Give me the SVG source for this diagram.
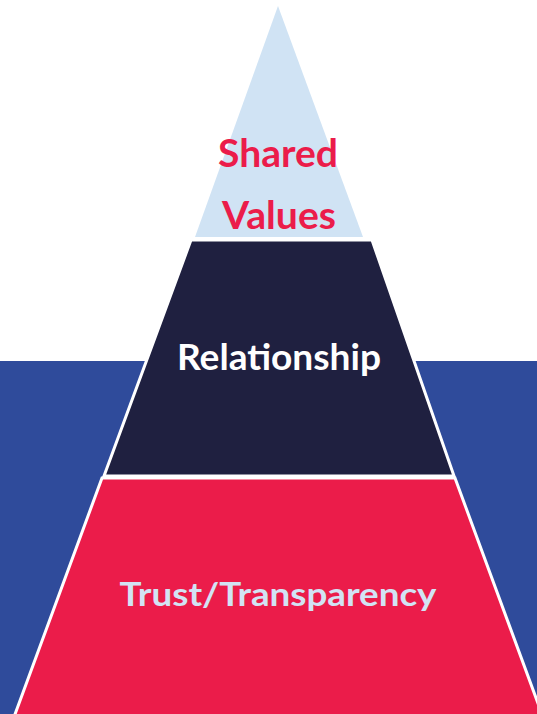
<svg xmlns="http://www.w3.org/2000/svg" width="537" height="714" viewBox="0 0 537 714">
<style>
.lbl{font-family:Lato,"Open Sans","Liberation Sans",sans-serif;font-weight:700;text-anchor:middle}
.layer{stroke:#FFFFFF;stroke-width:3;stroke-linejoin:miter}
</style>
<rect x="0" y="0" width="537" height="714" fill="#FFFFFF"/>
<rect id="sea" x="0" y="361" width="537" height="353" fill="#2F4B9B"/>
<g id="bottom">
<polygon class="layer" points="102,478 455,478 543,717 14,717" fill="#EB1C4A"/>
<text class="lbl" x="278" y="606" font-size="33" fill="#D2E3F4" textLength="317" lengthAdjust="spacingAndGlyphs">Trust/Transparency</text>
</g>
<g id="middle">
<polygon class="layer" points="191,240 372,240 454,476 104,476" fill="#1F2040"/>
<text class="lbl" x="279" y="370" font-size="36" fill="#FFFFFF" textLength="204" lengthAdjust="spacingAndGlyphs">Relationship</text>
</g>
<g id="top">
<polygon points="278,6 363,237 195,237" fill="#D0E3F4"/>
<text class="lbl" x="278" y="167" font-size="39" fill="#EB1C4A" textLength="120" lengthAdjust="spacingAndGlyphs">Shared</text>
<text class="lbl" x="279" y="229" font-size="39" fill="#EB1C4A" textLength="114" lengthAdjust="spacingAndGlyphs">Values</text>
</g>
</svg>
